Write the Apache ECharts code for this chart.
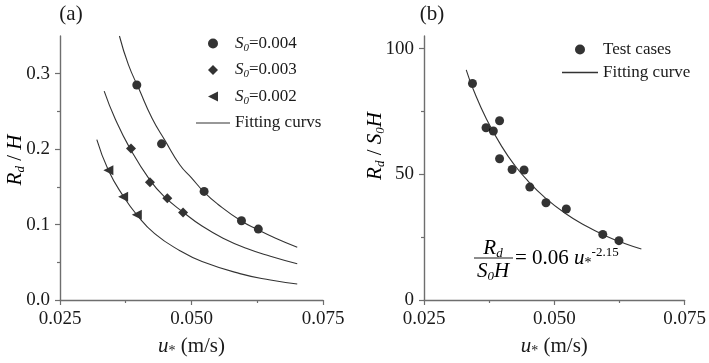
<!DOCTYPE html>
<html>
<head>
<meta charset="utf-8">
<script src="https://cdn.jsdelivr.net/npm/echarts@6/dist/echarts.min.js"></script>
<style>
  html, body { margin: 0; padding: 0; background: #fff; }
  #chart { width: 709px; height: 363px; }
</style>
</head>
<body>
<div id="chart"></div>
<script>
// panel (a): measured points
const uS004 = [0.0396, 0.0443, 0.0524, 0.0595, 0.0627];
const rS004 = [0.285, 0.207, 0.144, 0.105, 0.094];
const uS003 = [0.0385, 0.0421, 0.0454, 0.0484];
const rS003 = [0.201, 0.156, 0.135, 0.116];
const uS002 = [0.0342, 0.0370, 0.0396];
const rS002 = [0.172, 0.137, 0.113];

// panel (a): fitting curves
const fitU004 = [0.0363, 0.038, 0.040, 0.0425, 0.045, 0.0478, 0.050, 0.0524, 0.055, 0.0594, 0.0627, 0.066, 0.0701];
const fitR004 = [0.350, 0.312, 0.280, 0.241, 0.211, 0.179, 0.162, 0.143, 0.127, 0.105, 0.093, 0.082, 0.070];
const fitU003 = [0.0334, 0.0355, 0.0383, 0.0421, 0.045, 0.0485, 0.052, 0.056, 0.0604, 0.065, 0.0701];
const fitR003 = [0.277, 0.240, 0.201, 0.159, 0.136, 0.116, 0.098, 0.082, 0.0686, 0.058, 0.048];
const fitU002 = [0.032, 0.0342, 0.037, 0.0396, 0.043, 0.0478, 0.052, 0.0592, 0.065, 0.0701];
const fitR002 = [0.2125, 0.172, 0.138, 0.113, 0.088, 0.0654, 0.051, 0.035, 0.0265, 0.0212];

// panel (b)
const uAll = [0.0343, 0.0369, 0.0383, 0.0395, 0.0395, 0.0419, 0.0442, 0.0453, 0.0484, 0.0523, 0.0593, 0.0624];
const rAll = [86.1, 68.5, 67.2, 71.3, 56.2, 51.9, 51.7, 44.9, 38.7, 36.2, 26.1, 23.6];
const fitU = [0.0331, 0.0345, 0.037, 0.040, 0.0425, 0.045, 0.048, 0.052, 0.056, 0.060, 0.0635, 0.0667];
const fitR = [91.5, 83.5, 71.9, 60.8, 53.3, 47.2, 41.1, 34.6, 29.5, 25.4, 22.5, 20.3];

const xTicks = [0.025, 0.050, 0.075];
const yTicksA = [0, 0.1, 0.2, 0.3];
const yTicksB = [0, 50, 100];

const zip = (xs, ys) => xs.map((x, i) => [x, ys[i]]);

const FONT = 'Liberation Serif';
const INK = '#1a1a1a';
const AXIS = '#6e6e6e';

const rich = {
  i: { fontFamily: FONT, fontSize: 17, fontStyle: 'italic', color: INK, lineHeight: 20 },
  n: { fontFamily: FONT, fontSize: 17, color: INK, lineHeight: 20 },
  s: { fontFamily: FONT, fontSize: 11, fontStyle: 'italic', color: INK, lineHeight: 11, verticalAlign: 'bottom' },
};

const big = {
  i: { fontFamily: FONT, fontSize: 21, fontStyle: 'italic', color: INK, lineHeight: 24 },
  n: { fontFamily: FONT, fontSize: 21, color: INK, lineHeight: 24 },
  s: { fontFamily: FONT, fontSize: 13, fontStyle: 'italic', color: INK, lineHeight: 13, verticalAlign: 'bottom' },
  u: { fontFamily: FONT, fontSize: 14, color: INK, lineHeight: 13, verticalAlign: 'bottom' },
  p: { fontFamily: FONT, fontSize: 13, color: INK, lineHeight: 13, verticalAlign: 'top' },
};

function xAxis(gridIndex) {
  return {
    type: 'value', gridIndex, min: 0.025, max: 0.075, interval: 0.025,
    name: '{i|u}{u|*}{n| (m/s)}',
    nameLocation: 'middle', nameGap: 34,
    nameTextStyle: { rich: big },
    axisLine: { lineStyle: { color: AXIS, width: 1.4 } },
    axisTick: { length: 5, lineStyle: { color: AXIS, width: 1.2 } },
    minorTick: { show: true, splitNumber: 2, length: 3, lineStyle: { color: AXIS, width: 1.2 } },
    splitLine: { show: false },
    axisLabel: {
      margin: 10, fontFamily: FONT, fontSize: 19, color: INK,
      formatter: (v) => v.toFixed(3),
    },
  };
}

function yAxis(gridIndex, max, interval, ticks, digits) {
  return {
    type: 'value', gridIndex, min: 0, max, interval,
    axisLine: { show: true, lineStyle: { color: AXIS, width: 1.4 } },
    axisTick: { show: true, length: 5, customValues: ticks, lineStyle: { color: AXIS, width: 1.2 } },
    minorTick: { show: true, splitNumber: 2, length: 3, lineStyle: { color: AXIS, width: 1.2 } },
    splitLine: { show: false },
    axisLabel: {
      margin: 10, fontFamily: FONT, fontSize: 19, color: INK,
      customValues: ticks,
      formatter: (v) => v.toFixed(digits),
    },
  };
}

const fitLine = (name, data, xi, yi) => ({
  name, type: 'line', xAxisIndex: xi, yAxisIndex: yi, data,
  smooth: true, symbol: 'none', silent: true,
  lineStyle: { color: '#333', width: 1.1 },
  itemStyle: { color: '#333' },
});

const dots = (name, data, xi, yi, symbol, size) => ({
  name, type: 'scatter', xAxisIndex: xi, yAxisIndex: yi, data,
  symbol, symbolSize: size,
  itemStyle: { color: '#000' },
});

const triLeft = 'path://M0,5L10,0L10,10Z';
const diamond = 'path://M5,0L10,5L5,10L0,5Z';
const dash = 'path://M0,0L34,0L34,1.2L0,1.2Z';

const legendText = (name) => {
  const m = name.match(/^S0(=.*)$/);
  if (m) return '{i|S}{s|0}{n|' + m[1] + '}';
  return '{n|' + name + '}';
};

const chart = echarts.init(document.getElementById('chart'), null, { renderer: 'canvas' });

chart.setOption({
  backgroundColor: '#fff',
  animation: false,
  grid: [
    { left: 60, top: 36, width: 263, height: 264 },
    { left: 424, top: 36, width: 265, height: 264 },
  ],
  xAxis: [xAxis(0), xAxis(1)],
  yAxis: [
    yAxis(0, 0.35, 0.1, yTicksA, 1),
    yAxis(1, 105, 50, yTicksB, 0),
  ],
  legend: [
    {
      orient: 'vertical', left: 196, top: 35, padding: 0,
      itemWidth: 34, itemHeight: 10, itemGap: 8,
      formatter: legendText,
      textStyle: { rich },
      data: [
        { name: 'S0=0.004', icon: 'circle' },
        { name: 'S0=0.003', icon: diamond },
        { name: 'S0=0.002', icon: triLeft },
        { name: 'Fitting curvs', icon: dash },
      ],
    },
    {
      orient: 'vertical', left: 562, top: 41, padding: 0,
      itemWidth: 36, itemHeight: 10, itemGap: 6,
      formatter: legendText,
      textStyle: { rich },
      data: [
        { name: 'Test cases', icon: 'circle' },
        { name: 'Fitting curve', icon: dash },
      ],
    },
  ],
  graphic: [
    { type: 'text', x: 71, y: 14, style: { text: '(a)', font: '21px ' + FONT, fill: INK, align: 'center', verticalAlign: 'middle' } },
    { type: 'text', x: 432, y: 14, style: { text: '(b)', font: '21px ' + FONT, fill: INK, align: 'center', verticalAlign: 'middle' } },
    {
      type: 'text', x: 15, y: 160, rotation: Math.PI / 2,
      style: { text: '{i|R}{s|d}{n| / }{i|H}', rich: big, align: 'center', verticalAlign: 'middle' },
    },
    {
      type: 'text', x: 375, y: 146, rotation: Math.PI / 2,
      style: { text: '{i|R}{s|d}{n| / }{i|S}{s|0}{i|H}', rich: big, align: 'center', verticalAlign: 'middle' },
    },
    {
      type: 'text', x: 493, y: 248,
      style: { text: '{i|R}{s|d}', rich: big, align: 'center', verticalAlign: 'middle' },
    },
    { type: 'line', shape: { x1: 474, y1: 258, x2: 513, y2: 258 }, style: { stroke: INK, lineWidth: 1 } },
    {
      type: 'text', x: 493, y: 271,
      style: { text: '{i|S}{s|0}{i|H}', rich: big, align: 'center', verticalAlign: 'middle' },
    },
    {
      type: 'text', x: 515, y: 258,
      style: { text: '{n|= 0.06 }{i|u}{u|*}{p|-2.15}', rich: big, align: 'left', verticalAlign: 'middle' },
    },
  ],
  series: [
    fitLine('Fitting curvs', zip(fitU004, fitR004), 0, 0),
    fitLine('Fitting curvs', zip(fitU003, fitR003), 0, 0),
    fitLine('Fitting curvs', zip(fitU002, fitR002), 0, 0),
    dots('S0=0.004', zip(uS004, rS004), 0, 0, 'circle', 9),
    dots('S0=0.003', zip(uS003, rS003), 0, 0, diamond, 10),
    dots('S0=0.002', zip(uS002, rS002), 0, 0, triLeft, 10),
    fitLine('Fitting curve', zip(fitU, fitR), 1, 1),
    dots('Test cases', zip(uAll, rAll), 1, 1, 'circle', 9),
  ],
});
</script>
</body>
</html>
